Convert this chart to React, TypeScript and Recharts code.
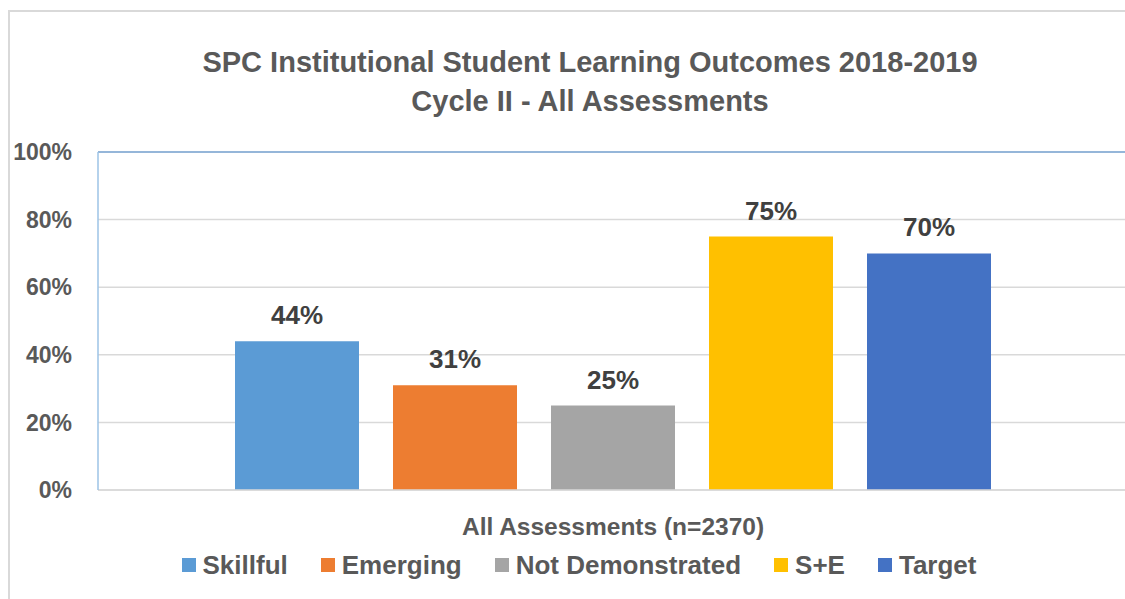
import React from 'react';
import { BarChart, Bar, XAxis, YAxis, CartesianGrid, Legend, LabelList, ReferenceLine } from 'recharts';

const categories = ['All Assessments (n=2370)'];
const seriesNames = ['Skillful', 'Emerging', 'Not Demonstrated', 'S+E', 'Target'];
const seriesValues = [[44], [31], [25], [75], [70]];
const seriesColors = ['#5b9bd5', '#ed7d31', '#a5a5a5', '#ffc000', '#4472c4'];
const yTicks = [0, 20, 40, 60, 80, 100];

const FONT = '"Liberation Sans", Arial, sans-serif';

// one row per category, one column per series
const data = categories.map((name, ci) => {
  const row: Record<string, string | number> = { name };
  seriesNames.forEach((s, si) => {
    row[s] = seriesValues[si][ci];
  });
  return row;
});

const LegendContent = (props: any) => {
  // keep the series order instead of the alphabetical one
  const items = [...(props.payload || [])].sort(
    (a: any, b: any) => seriesNames.indexOf(a.value) - seriesNames.indexOf(b.value)
  );
  return (
    <div
      style={{
        display: 'flex',
        justifyContent: 'center',
        alignItems: 'center',
        height: 30,
        paddingLeft: 20,
        fontFamily: FONT,
        fontWeight: 'bold',
        fontSize: 26,
        color: '#595959',
      }}
    >
      {items.map((it: any, i: number) => (
        <div key={i} style={{ display: 'flex', alignItems: 'center', marginRight: i < items.length - 1 ? 33 : 0 }}>
          <span style={{ width: 14, height: 14, background: it.color, display: 'inline-block', marginRight: 7 }} />
          <span>{it.value}</span>
        </div>
      ))}
    </div>
  );
};

export default function App() {
  return (
    <div
      style={{
        position: 'fixed',
        left: 8,
        top: 10,
        width: 1117,
        height: 589,
        overflow: 'hidden',
        borderLeft: '2px solid #d9d9d9',
        borderTop: '2px solid #d9d9d9',
        boxSizing: 'border-box',
        background: '#fff',
      }}
    >
      <div
        style={{
          position: 'absolute',
          top: 31,
          left: 0,
          width: 1160,
          textAlign: 'center',
          fontFamily: FONT,
          fontWeight: 'bold',
          fontSize: 29,
          lineHeight: '39px',
          color: '#595959',
          zIndex: 2,
        }}
      >
        <div>SPC Institutional Student Learning Outcomes 2018-2019</div>
        <div>Cycle II - All Assessments</div>
      </div>
      <BarChart
        width={1125}
        height={589}
        data={data}
        margin={{ top: 140, right: 7, bottom: 21, left: 0 }}
        barCategoryGap={137}
        barGap={34}
      >
        <CartesianGrid vertical={false} stroke="#d9d9d9" strokeWidth={1.5} />
        <XAxis
          dataKey="name"
          height={60}
          tickLine={false}
          axisLine={{ stroke: '#d9d9d9', strokeWidth: 1.5 }}
          tickMargin={22}
          tick={{ fill: '#595959', fontSize: 24.5, fontWeight: 'bold', fontFamily: FONT }}
        />
        <YAxis
          width={88}
          domain={[0, 100]}
          ticks={yTicks}
          tickFormatter={(v: number) => `${v}%`}
          tickLine={false}
          tickMargin={20}
          axisLine={{ stroke: '#9dc3e6', strokeWidth: 1.5 }}
          tick={{ fill: '#595959', fontSize: 23, fontWeight: 'bold', fontFamily: FONT }}
        />
        <ReferenceLine y={100} stroke="#7ba7d6" strokeWidth={1.5} />
        <Legend
          verticalAlign="bottom"
          content={<LegendContent />}
          wrapperStyle={{ height: 30 }}
        />
        {seriesNames.map((s, i) => (
          <Bar key={s} dataKey={s} name={s} fill={seriesColors[i]} isAnimationActive={false}>
            <LabelList
              dataKey={s}
              position="top"
              offset={17}
              formatter={(v: any) => `${v}%`}
              fill="#404040"
              fontSize={26}
              fontWeight="bold"
              fontFamily={FONT}
            />
          </Bar>
        ))}
      </BarChart>
    </div>
  );
}
